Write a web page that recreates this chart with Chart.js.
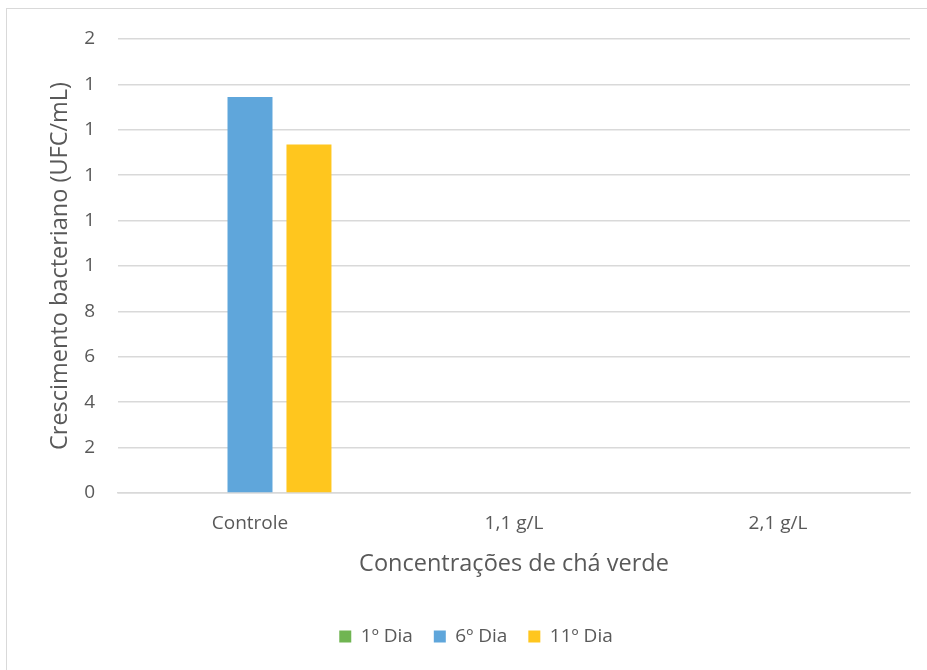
<!DOCTYPE html>
<html>
<head>
<meta charset="utf-8">
<script src="https://cdn.jsdelivr.net/npm/chart.js@4"></script>
<style>
    html, body { margin: 0; padding: 0; background: #fff; }
    #wrap { position: relative; width: 927px; height: 670px; overflow: hidden; }
    #frame { position: absolute; left: 6px; top: 8px; width: 940px; height: 680px; border: 1px solid #d9d9d9; box-sizing: border-box; }
    #chart { position: absolute; left: 0; top: 0; }
</style>
</head>
<body>
<div id="wrap">
    <div id="frame"></div>
    <canvas id="chart" width="927" height="670"></canvas>
</div>
<script>
// Crescimento bacteriano por concentração de chá verde
const categories = ['Controle', '1,1 g/L', '2,1 g/L'];
const dia1 = [0, 0, 0];
const dia6 = [17.45, 0, 0];
const dia11 = [15.35, 0, 0];
// rótulos do eixo como aparecem (formato numérico truncado)
const yTickLabels = ['0', '2', '4', '6', '8', '1', '1', '1', '1', '1', '2'];

const textColor = '#595959';
const gridColor = '#d9d9d9';
const fontFamily = '"Open Sans", sans-serif';

const ctx = document.getElementById('chart').getContext('2d');

new Chart(ctx, {
    type: 'bar',
    data: {
        labels: categories,
        datasets: [
            { label: '1º Dia', data: dia1, backgroundColor: '#70b552' },
            { label: '6º Dia', data: dia6, backgroundColor: '#5fa6db' },
            { label: '11º Dia', data: dia11, backgroundColor: '#ffc61e' }
        ]
    },
    options: {
        responsive: false,
        animation: false,
        datasets: {
            bar: { categoryPercentage: 0.67, barPercentage: 0.763 }
        },
        layout: { padding: { left: 42, right: 17, top: 39, bottom: 14 } },
        plugins: {
            legend: {
                position: 'bottom',
                labels: {
                    color: textColor,
                    font: { family: fontFamily, size: 19 },
                    boxWidth: 12,
                    boxHeight: 12,
                    padding: 21
                }
            },
            tooltip: { enabled: false }
        },
        scales: {
            y: {
                min: 0,
                max: 20,
                ticks: {
                    stepSize: 2,
                    color: textColor,
                    font: { family: fontFamily, size: 19 },
                    padding: 23,
                    callback: (v, i) => yTickLabels[i]
                },
                grid: { color: gridColor, lineWidth: 1.5, drawTicks: false },
                border: { display: false },
                title: {
                    display: true,
                    text: 'Crescimento bacteriano (UFC/mL)',
                    color: textColor,
                    font: { family: fontFamily, size: 23.5 }
                },
                afterFit(scale) { scale.width = 76; }
            },
            x: {
                ticks: {
                    color: textColor,
                    font: { family: fontFamily, size: 19 },
                    padding: 19
                },
                grid: { display: false, drawTicks: false },
                border: { color: gridColor, width: 1.5 },
                title: {
                    display: true,
                    text: 'Concentrações de chá verde',
                    color: textColor,
                    font: { family: fontFamily, size: 23.5 },
                    padding: { top: 4, bottom: 28 }
                },
                afterFit(scale) { scale.height = 113; }
            }
        }
    }
});
</script>
</body>
</html>
